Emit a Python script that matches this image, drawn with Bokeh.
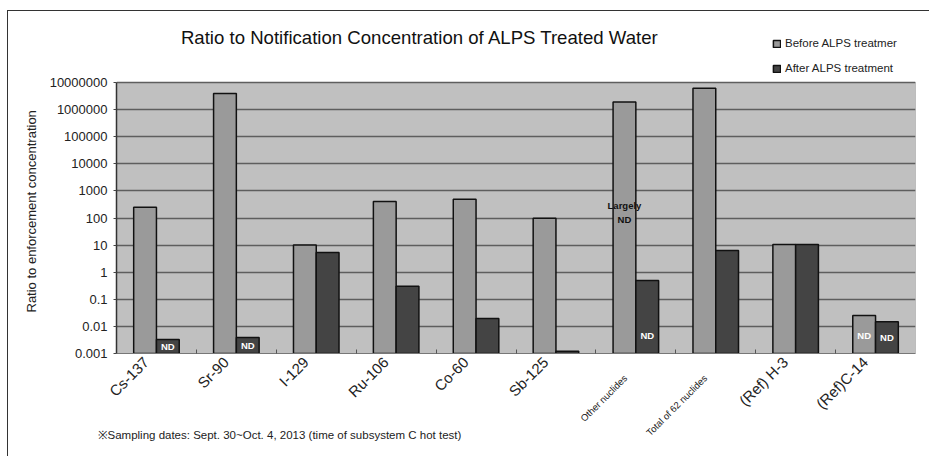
import numpy as np
from bokeh.plotting import figure
from bokeh.models import (ColumnDataSource, Range1d, FixedTicker, CustomJSTickFormatter,
                          Label, LabelSet, Legend, LegendItem, LinearAxis, Title)
from bokeh.transform import dodge
from bokeh.core.properties import value
from bokeh.embed import file_html
from bokeh.resources import INLINE

# ---------------- data ----------------
categories = ["Cs-137", "Sr-90", "I-129", "Ru-106", "Co-60", "Sb-125",
              "Other nuclides", "Total of 62 nuclides", "(Ref) H-3", "(Ref)C-14"]
before_values = [250, 3.9e6, 10, 410, 490, 98, 1.9e6, 6.2e6, 10.5, 0.025]
after_values = [0.0033, 0.0039, 5.3, 0.30, 0.0195, 0.0012, 0.49, 6.3, 10.5, 0.015]
nd_before = [False, False, False, False, False, False, False, False, False, True]
nd_after = [True, True, False, False, False, False, True, False, False, True]
series_names = ["Before ALPS treatmer", "After ALPS treatment"]
y_tick_values = [0.001, 0.01, 0.1, 1, 10, 100, 1000, 10000, 100000, 1000000, 10000000]
y_tick_labels = ["0.001", "0.01", "0.1", "1", "10", "100", "1000", "10000",
                 "100000", "1000000", "10000000"]
title_text = "Ratio to Notification Concentration of ALPS Treated Water"
y_axis_title = "Ratio to enforcement concentration"
footnote_text = "※Sampling dates: Sept. 30~Oct. 4, 2013 (time of subsystem C hot test)"
note_category = "Other nuclides"
note_text = "Largely\nND"
note_level = 160
nd_text = "ND"

# ---------------- layout / style ----------------
FONT = "Liberation Sans"
OX, OY = 8, 11                 # canvas origin on the page (after the framing border)
W, H = 922, 446
AREA_TOP, AREA_BOTTOM = 82, 353  # page y of the grey plotting area
AREA_RIGHT = 915                 # page x of the grey area's right edge
FRAME_TOP = 22                   # frame extended upward to hold title + legend
MB_L, MB_R = 116 - OX, W - (AREA_RIGHT - OX)
MB_T, MB_B = FRAME_TOP - OY, H - (AREA_BOTTOM - OY)
BAR_W = 0.285
LABEL_SHIFT = -0.13              # category labels sit a little left of the centre
BEFORE_COLOR = "#9a9a9a"
AFTER_COLOR = "#444444"
AREA_COLOR = "#c0c0c0"

n = len(categories)
centers = np.arange(n) + 0.5
boundaries = np.arange(1, n)
y_floor, y_ceil = y_tick_values[0], y_tick_values[-1]
decades = np.log10(y_ceil) - np.log10(y_floor)
px_per_decade = (AREA_BOTTOM - AREA_TOP) / decades
y_top = 10 ** (np.log10(y_ceil) + (AREA_TOP - FRAME_TOP) / px_per_decade)
is_small = [len(c) > 12 for c in categories]

p = figure(width=W, height=H, x_range=Range1d(0, n),
           y_range=Range1d(y_floor, y_top), y_axis_type="log",
           output_backend="svg", toolbar_location=None,
           min_border_left=MB_L, min_border_right=MB_R, min_border_top=MB_T,
           min_border_bottom=MB_B, background_fill_color="white",
           border_fill_color="white", outline_line_color=None)
p.title = None
p.styles = {"margin-left": "7px", "margin-top": "10px",
            "border-left": "1px solid #333333", "border-top": "1px solid #333333"}

# grey plotting area
p.quad(left=[0], right=[n], bottom=[y_floor], top=[y_ceil], fill_color=AREA_COLOR,
       line_color="#8c8c8c", line_width=1, level="image")

# x axis: boundary ticks (minor, inside) + big category labels
label_ticks = list(centers + LABEL_SHIFT)
cat_code = """
const i = Math.round(tick - 0.5);
if (i < 0 || i >= cats.length) return "";
return (small[i] == want) ? cats[i] : "";
"""
p.xaxis.ticker = FixedTicker(ticks=label_ticks, minor_ticks=list(boundaries))
p.xaxis.formatter = CustomJSTickFormatter(
    args=dict(cats=categories, small=is_small, want=False), code=cat_code)
p.xaxis.major_tick_line_color = None
p.xaxis.minor_tick_in = 4
p.xaxis.minor_tick_out = 0
p.xaxis.minor_tick_line_color = "#555555"
p.xaxis.axis_line_color = "#777777"
p.xaxis.major_label_orientation = np.pi / 4
p.xaxis.major_label_text_font = FONT
p.xaxis.major_label_text_font_size = "15px"
p.xaxis.major_label_text_color = "#222222"
p.xaxis.major_label_standoff = 0
p.xgrid.visible = False

# second x axis for the two long (small-print) category labels
ax2 = LinearAxis(ticker=FixedTicker(ticks=label_ticks, minor_ticks=[]),
                 formatter=CustomJSTickFormatter(
                     args=dict(cats=categories, small=is_small, want=True), code=cat_code),
                 axis_line_color=None, major_tick_line_color=None,
                 minor_tick_line_color=None, major_label_orientation=np.pi / 4,
                 major_label_text_font=FONT, major_label_text_font_size="9.5px",
                 major_label_text_color="#222222", major_label_standoff=-51)
p.add_layout(ax2, "below")

# footnote
p.add_layout(Title(text=footnote_text, align="left", vertical_align="top",
                   offset=-19, standoff=-32,
                   text_font=FONT, text_font_size="11.5px", text_font_style="normal",
                   text_color="#222222"), "below")

# y axis
p.yaxis.bounds = (y_floor, y_ceil)
p.yaxis.ticker = FixedTicker(ticks=y_tick_values, minor_ticks=[])
p.yaxis.formatter = CustomJSTickFormatter(
    args=dict(vals=y_tick_values, labels=y_tick_labels),
    code="""
    let best = 0, bd = Infinity;
    for (let i = 0; i < vals.length; i++) {
        const d = Math.abs(Math.log10(vals[i]) - Math.log10(tick));
        if (d < bd) { bd = d; best = i; }
    }
    return labels[best];
    """)
p.yaxis.major_label_text_font = FONT
p.yaxis.major_label_text_font_size = "13px"
p.yaxis.major_label_text_color = "#222222"
p.yaxis.major_tick_out = 3
p.yaxis.major_tick_in = 0
p.yaxis.major_tick_line_color = "#444444"
p.yaxis.major_label_standoff = 6
p.yaxis.axis_line_color = "#333333"
p.yaxis.axis_line_width = 1.5
p.yaxis.minor_tick_line_color = None
p.ygrid.grid_line_color = "#5e5e5e"
p.ygrid.grid_line_width = 1.5

# y axis title (left panel, measured from the bottom of the frame)
p.add_layout(Title(text=y_axis_title, align="left", offset=41, standoff=16,
                   text_font=FONT, text_font_size="13px", text_font_style="normal",
                   text_color="#222222"), "left")

# bars
src = ColumnDataSource(dict(x=centers, before=before_values, after=after_values))
r1 = p.vbar(x=dodge("x", -BAR_W / 2), top="before", bottom=y_floor, width=BAR_W,
            fill_color=BEFORE_COLOR, line_color="#111111", line_width=1.5, source=src)
r2 = p.vbar(x=dodge("x", BAR_W / 2), top="after", bottom=y_floor, width=BAR_W,
            fill_color=AFTER_COLOR, line_color="#111111", line_width=1.5, source=src)

# legend (inside the extended frame, above the grey area)
legend = Legend(items=[LegendItem(label=series_names[0], renderers=[r1]),
                       LegendItem(label=series_names[1], renderers=[r2])],
                location=(656, 279), orientation="vertical",
                border_line_color=None, background_fill_alpha=0,
                padding=0, margin=0, spacing=13, glyph_width=9, glyph_height=9,
                label_standoff=4, label_height=9,
                label_text_font=FONT, label_text_font_size="11.5px",
                label_text_color="#222222")
p.add_layout(legend, "center")

# title (canvas coordinates, inside the extended frame)
p.add_layout(Label(x=418.5 - OX, y=36 - OY, x_units="canvas", y_units="canvas",
                   text=title_text, text_align="center", text_baseline="middle",
                   text_font=FONT, text_font_size="18.6px", text_color="#111111"))

# ND labels
nd_x, nd_y, nd_off = [], [], []
for i in range(n):
    for flag, vals, sgn in ((nd_before[i], before_values, -1), (nd_after[i], after_values, 1)):
        if flag:
            bar_px = (np.log10(vals[i]) - np.log10(y_floor)) * px_per_decade
            nd_x.append(centers[i] + sgn * BAR_W / 2)
            nd_y.append(y_floor)
            nd_off.append(min(18, bar_px / 2))
nd_src = ColumnDataSource(dict(x=nd_x, y=nd_y, yo=nd_off, text=[nd_text] * len(nd_x)))
p.add_layout(LabelSet(x="x", y="y", text="text", source=nd_src, y_offset="yo",
                      text_align="center", text_baseline="middle",
                      text_font=value(FONT), text_font_size="9.5px",
                      text_font_style="bold", text_color="white"))

# "Largely ND" note
ci = categories.index(note_category)
p.add_layout(Label(x=centers[ci] - BAR_W / 2, y=note_level, text=note_text,
                   text_align="center", text_baseline="middle", text_font=FONT,
                   text_font_size="9.5px", text_font_style="bold",
                   text_color="#111111", text_line_height=1.2))

open("out.html", "w").write(file_html(p, INLINE))
